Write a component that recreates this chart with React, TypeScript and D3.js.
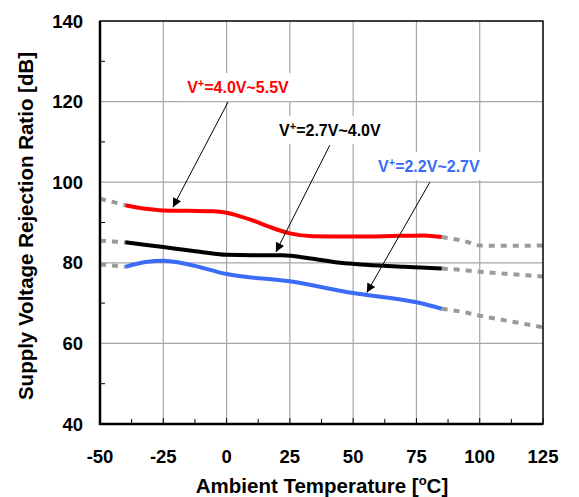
import React from "react";
import * as d3 from "d3";

const xTicks = [-50, -25, 0, 25, 50, 75, 100, 125];
const yTicks = [40, 60, 80, 100, 120, 140];
const xMinor = [-37.5, -12.5, 12.5, 37.5, 62.5, 87.5, 112.5];
const yMinor = [50, 70, 90, 110, 130];

const redT = [-40, -32, -25, -15, -5, 0, 5, 10, 17, 25, 34, 50, 68, 78, 85];
const redV = [94.3, 93.4, 93.0, 92.9, 92.8, 92.4, 91.6, 90.6, 88.9, 87.3, 86.6, 86.5, 86.7, 86.8, 86.4];
const blackT = [-40, -25, -10, 0, 10, 22, 34, 45, 55, 70, 85];
const blackV = [85.1, 83.9, 82.7, 82.0, 81.9, 81.9, 81.0, 80.0, 79.5, 79.0, 78.6];
const blueT = [-40, -32, -25, -15, 0, 25, 50, 75, 85];
const blueV = [79.0, 80.2, 80.5, 79.6, 77.2, 75.4, 72.5, 70.2, 68.6];

const grayLeftT = [-50, -40];
const redGrayLV = [95.9, 94.3];
const blackGrayLV = [85.5, 85.1];
const blueGrayLV = [79.6, 79.0];
const grayRightT = [85, 95, 100, 112, 125];
const redGrayRV = [86.4, 85.2, 84.3, 84.2, 84.3];
const blackGrayRV = [78.6, 78.1, 77.8, 77.2, 76.6];
const blueGrayRV = [68.6, 67.6, 66.9, 65.5, 64.0];

const labelTexts = ["4.0V~5.5V", "2.7V~4.0V", "2.2V~2.7V"];
const labelColors = ["#ff0000", "#000000", "#3a6cf6"];
const labelAt = [[4.5, 122.1], [40.8, 111.5], [79.9, 102.5]];
const arrowFrom = [[0.6, 119.9], [40.8, 109.2], [80.3, 100.0]];
const arrowTo = [[-21.2, 93.8], [19.5, 82.7], [55.4, 72.6]];

const W = 579, H = 497;
const L = 100, R = 543, T = 21, B = 424;

export default function App() {
  const x = d3.scaleLinear().domain([-50, 125]).range([L, R]);
  const y = d3.scaleLinear().domain([40, 140]).range([B, T]);
  const line = d3
    .line<[number, number]>()
    .x((d) => x(d[0]))
    .y((d) => y(d[1]))
    .curve(d3.curveMonotoneX);
  const zip = (a: number[], b: number[]) => a.map((t, i) => [t, b[i]] as [number, number]);
  const font = "'Liberation Sans', Arial, sans-serif";

  const series = [
    { t: redT, v: redV, c: "#ff0000" },
    { t: blackT, v: blackV, c: "#000000" },
    { t: blueT, v: blueV, c: "#3a6cf6" },
  ];
  const grays = [
    [grayLeftT, redGrayLV], [grayLeftT, blackGrayLV], [grayLeftT, blueGrayLV],
    [grayRightT, redGrayRV], [grayRightT, blackGrayRV], [grayRightT, blueGrayRV],
  ];

  return (
    <svg width={W} height={H} style={{ position: "absolute", left: 0, top: 0, background: "#fff" }} fontFamily={font}>
      <defs>
        <marker id="ah" viewBox="0 0 10 10" refX="10" refY="5" markerWidth="12" markerHeight="9" markerUnits="userSpaceOnUse" orient="auto">
          <path d="M0,0 L10,5 L0,10 z" fill="#000" />
        </marker>
      </defs>
      <rect x={0} y={0} width={W} height={H} fill="#fff" />
      {/* grid */}
      {xTicks.slice(1, -1).map((t) => (
        <line key={"gx" + t} x1={x(t)} x2={x(t)} y1={T} y2={B} stroke="#a6a6a6" strokeWidth={1.2} />
      ))}
      {yTicks.slice(1, -1).map((t) => (
        <line key={"gy" + t} x1={L} x2={R} y1={y(t)} y2={y(t)} stroke="#a6a6a6" strokeWidth={1.2} />
      ))}
      {/* minor ticks */}
      {xMinor.map((t) => (
        <line key={"mx" + t} x1={x(t)} x2={x(t)} y1={B} y2={B - 5} stroke="#000" strokeWidth={1} />
      ))}
      {yMinor.map((t) => (
        <line key={"my" + t} x1={L} x2={L + 5} y1={y(t)} y2={y(t)} stroke="#000" strokeWidth={1} />
      ))}
      {xTicks.map((t) => (
        <line key={"tx" + t} x1={x(t)} x2={x(t)} y1={B} y2={B - 6} stroke="#000" strokeWidth={1} />
      ))}
      {/* gray extensions */}
      {grays.map((g, i) => (
        <path key={"g" + i} d={line(zip(g[0], g[1])) || ""} fill="none" stroke="#9a9a9a" strokeWidth={4} strokeDasharray="6,6" />
      ))}
      {/* series */}
      {series.map((s, i) => (
        <path key={"s" + i} d={line(zip(s.t, s.v)) || ""} fill="none" stroke={s.c} strokeWidth={4} />
      ))}
      {/* frame */}
      <rect x={L} y={T} width={R - L} height={B - T} fill="none" stroke="#000" strokeWidth={1.5} />
      <line x1={L} x2={L} y1={T} y2={B + 1} stroke="#000" strokeWidth={2.5} />
      <line x1={L - 1} x2={R} y1={B} y2={B} stroke="#000" strokeWidth={2.5} />
      {/* annotations */}
      {labelTexts.map((txt, i) => {
        const cx = x(labelAt[i][0]);
        const by = y(labelAt[i][1]);
        return (
          <g key={"lab" + i}>
            <rect x={cx - 58} y={by - 20} width={116} height={28} fill="#fff" />
            <line
              x1={x(arrowFrom[i][0])}
              y1={y(arrowFrom[i][1])}
              x2={x(arrowTo[i][0])}
              y2={y(arrowTo[i][1])}
              stroke="#000"
              strokeWidth={1}
              markerEnd="url(#ah)"
            />
            <text x={cx} y={by} textAnchor="middle" fontSize={16} fontWeight="bold" fill={labelColors[i]}>
              V<tspan fontSize={11} dy={-6}>+</tspan>
              <tspan dy={6}>={txt}</tspan>
            </text>
          </g>
        );
      })}
      {/* tick labels */}
      {xTicks.map((t) => (
        <text key={"xl" + t} x={x(t)} y={463} textAnchor="middle" fontSize={18.5} fontWeight="bold">
          {t}
        </text>
      ))}
      {yTicks.map((t) => (
        <text key={"yl" + t} x={83} y={y(t) + 6.5} textAnchor="end" fontSize={18.5} fontWeight="bold">
          {t}
        </text>
      ))}
      {/* axis titles */}
      <text x={322} y={493} textAnchor="middle" fontSize={20.5} fontWeight="bold">
        Ambient Temperature [<tspan fontSize={13} dy={-8}>o</tspan>
        <tspan dy={8}>C]</tspan>
      </text>
      <text transform={`translate(33,226) rotate(-90)`} textAnchor="middle" fontSize={20.5} fontWeight="bold">
        Supply Voltage Rejection Ratio [dB]
      </text>
    </svg>
  );
}
